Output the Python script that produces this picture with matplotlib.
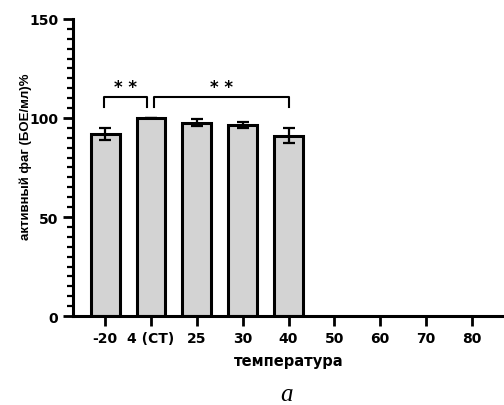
import numpy as np
import matplotlib.pyplot as plt
from matplotlib.ticker import MultipleLocator

# Phage activity after storage at different temperatures
temps = ['-20', '4 (CT)', '25', '30', '40', '50', '60', '70', '80']
activity = [92, 100, 97.5, 96.5, 91, 0, 0, 0, 0]
errors = [3, 0, 1.8, 1.7, 3.7, 0, 0, 0, 0]

plt.rcParams['font.family'] = ['DejaVu Sans']

fig = plt.figure(figsize=(5.04, 4.06), dpi=100)
ax = fig.add_axes([0.145, 0.219, 0.855, 0.732])

x = np.arange(len(temps))
n = 5  # only the first five temperatures have bars
ax.bar(x[:n], activity[:n], width=0.63, color='#d3d3d3', edgecolor='black',
       linewidth=2.2, zorder=2)
ax.errorbar(x[:n], activity[:n], yerr=errors[:n], fmt='none', ecolor='black',
            elinewidth=1.6, capsize=4, capthick=1.6, zorder=3)

# significance brackets
def bracket(x0, x1, y, h, label):
    ax.plot([x0, x0, x1, x1], [y - h, y, y, y - h], color='black', lw=1.5,
            clip_on=False)
    ax.text((x0 + x1) / 2, y + 2.5, label, ha='center', va='baseline',
            fontsize=12, fontweight='bold')

bracket(-0.02, 0.91, 110.5, 5, '* *')
bracket(1.07, 4.0, 110.5, 5, '* *')

ax.set_xlim(-0.7, 8.7)
ax.set_ylim(0, 150)
ax.set_xticks(x)
ax.set_xticklabels(temps)
ax.yaxis.set_major_locator(MultipleLocator(50))
ax.yaxis.set_minor_locator(MultipleLocator(5))

for side in ['top', 'right']:
    ax.spines[side].set_visible(False)
for side in ['left', 'bottom']:
    ax.spines[side].set_linewidth(2.2)

ax.tick_params(axis='both', which='major', width=2.0, length=7,
               labelsize=10)
ax.tick_params(axis='y', which='minor', width=1.6, length=4.5)
for lab in ax.get_xticklabels() + ax.get_yticklabels():
    lab.set_fontweight('bold')

ax.set_xlabel('температура', fontsize=10.5, fontweight='bold', labelpad=6)
ax.set_ylabel('активный фаг (БОЕ/мл)%', fontsize=9.5, fontweight='bold',
              family=['Liberation Sans', 'DejaVu Sans'])
ax.yaxis.set_label_coords(-0.095, 0.54)

fig.text(0.569, 0.028, 'а', fontsize=18, style='italic',
         family=['Liberation Serif', 'DejaVu Serif'], ha='center',
         va='center')

fig.savefig('out.png', dpi=100)
